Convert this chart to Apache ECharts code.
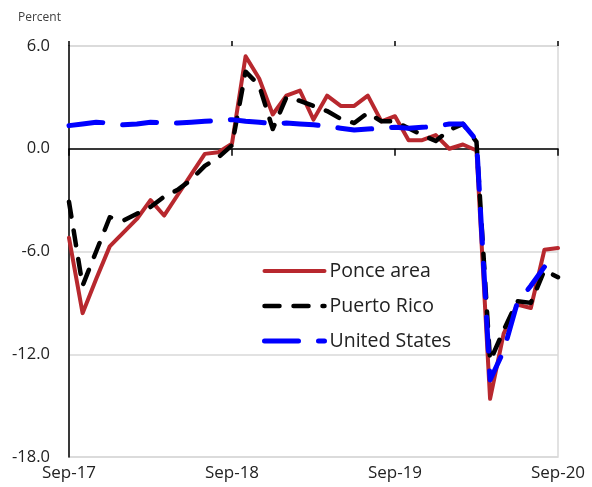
<!DOCTYPE html>
<html>
<head>
<meta charset="utf-8">
<script src="https://cdn.jsdelivr.net/npm/echarts@6/dist/echarts.min.js"></script>
<style>
  html, body { margin: 0; padding: 0; background: #fff; }
  #chart { width: 592px; height: 487px; }
</style>
</head>
<body>
<div id="chart"></div>
<script>
// Monthly periods, Sep 2017 through Sep 2020
const months = [
  'Sep-17','Oct-17','Nov-17','Dec-17','Jan-18','Feb-18','Mar-18','Apr-18','May-18','Jun-18','Jul-18','Aug-18',
  'Sep-18','Oct-18','Nov-18','Dec-18','Jan-19','Feb-19','Mar-19','Apr-19','May-19','Jun-19','Jul-19','Aug-19',
  'Sep-19','Oct-19','Nov-19','Dec-19','Jan-20','Feb-20','Mar-20','Apr-20','May-20','Jun-20','Jul-20','Aug-20',
  'Sep-20'
];

// Year-over-year change in payroll employment, percent
const ponceArea = [
  -5.2, -9.6, -7.6, -5.7, -4.9, -4.1, -3.0, -3.9, -2.7, -1.5, -0.3, -0.2,
   0.3,  5.4,  4.1,  2.0,  3.1,  3.4,  1.7,  3.1,  2.5,  2.5,  3.1,  1.6,
   1.9,  0.5,  0.5,  0.8,  0.0,  0.25, -0.1, -14.6, -10.8, -9.1, -9.3, -5.9,
  -5.8
];

const puertoRico = [
  -3.1, -8.0, -6.0, -4.0, -4.2, -3.8, -3.4, -2.8, -2.4, -1.8, -1.0, -0.5,
   0.2,  4.5,  3.7,  1.15, 3.0,  2.8,  2.5,  2.2,  1.75, 1.5,  2.1,  1.6,
   1.6,  1.2,  0.8,  0.45, 1.1,  1.45, 0.4, -12.4, -10.6, -8.9, -9.0, -7.1,
  -7.5
];

const unitedStates = [
   1.35, 1.45, 1.55, 1.5,  1.4,  1.45, 1.55, 1.5,  1.5,  1.55, 1.6,  1.65,
   1.7,  1.6,  1.55, 1.45, 1.5,  1.45, 1.4,  1.3,  1.2,  1.1,  1.15, 1.2,
   1.25, 1.2,  1.25, 1.3,  1.45, 1.45, 0.5, -13.5, -11.8, -9.0, -8.0, -6.9
];

const seriesNames = ['Ponce area', 'Puerto Rico', 'United States'];
const yTicks = { min: -18, max: 6, step: 6 };

const FONT = '"Open Sans", "Noto Sans", sans-serif';
const chart = echarts.init(document.getElementById('chart'), null, { renderer: 'canvas' });

chart.setOption({
  animation: false,
  backgroundColor: '#ffffff',
  title: {
    text: 'Percent',
    left: 13,
    top: 7,
    textStyle: { fontFamily: FONT, fontSize: 12, fontWeight: 'normal', color: '#404040' }
  },
  grid: {
    left: 69, right: 34, top: 46, bottom: 30,
    show: true, borderColor: '#d9d9d9', borderWidth: 1.5
  },
  legend: {
    orient: 'vertical',
    left: 257,
    top: 256,
    itemWidth: 60,
    itemHeight: 14,
    itemGap: 15,
    icon: 'inherit',
    lineStyle: { width: 'inherit' },
    itemStyle: { opacity: 0 },
    textStyle: { fontFamily: FONT, fontSize: 19.5, color: '#222', lineHeight: 19 },
    data: seriesNames
  },
  xAxis: [
    {
      // month labels along the bottom edge
      type: 'category',
      data: months,
      boundaryGap: false,
      position: 'bottom',
      axisLine: { show: false, onZero: false },
      axisTick: { show: false },
      splitLine: { show: false },
      axisLabel: {
        interval: 11,
        margin: 8,
        fontFamily: FONT, fontSize: 17, color: '#222',
        showMinLabel: true, showMaxLabel: true
      }
    },
    {
      // zero line with downward ticks
      type: 'category',
      data: months,
      boundaryGap: false,
      position: 'bottom',
      axisLine: { show: true, onZero: true, lineStyle: { color: '#000', width: 1.5 } },
      axisTick: { show: true, interval: 11, length: 7, lineStyle: { color: '#000', width: 1.5 } },
      axisLabel: { show: false },
      splitLine: { show: false }
    },
    {
      // upward half of the crossing ticks on the zero line
      type: 'category',
      data: months,
      boundaryGap: false,
      position: 'top',
      axisLine: { show: false, onZero: true },
      axisTick: { show: true, interval: 11, length: 5, lineStyle: { color: '#000', width: 1.5 } },
      axisLabel: { show: false },
      splitLine: { show: false }
    }
  ],
  yAxis: {
    type: 'value',
    min: yTicks.min,
    max: yTicks.max,
    interval: yTicks.step,
    axisLine: { show: true, onZero: false, lineStyle: { color: '#000', width: 1.5 } },
    axisTick: { show: false },
    splitLine: { show: true, lineStyle: { color: '#d9d9d9', width: 1.5 } },
    axisLabel: {
      margin: 19,
      fontFamily: FONT, fontSize: 16.5, color: '#222',
      formatter: v => v.toFixed(1)
    }
  },
  series: [
    {
      name: seriesNames[0],
      type: 'line',
      data: ponceArea,
      symbol: 'none',
      z: 2,
      lineStyle: { color: '#b8282e', width: 4, join: 'round', cap: 'round' },
      itemStyle: { color: '#b8282e' }
    },
    {
      name: seriesNames[1],
      type: 'line',
      data: puertoRico,
      symbol: 'none',
      z: 3,
      lineStyle: { color: '#000000', width: 4.5, type: [15, 14], join: 'round', cap: 'round' },
      itemStyle: { color: '#000000' }
    },
    {
      name: seriesNames[2],
      type: 'line',
      data: unitedStates,
      symbol: 'none',
      z: 4,
      lineStyle: { color: '#0000ff', width: 5, type: [34, 20], join: 'round', cap: 'round' },
      itemStyle: { color: '#0000ff' }
    }
  ]
});
</script>
</body>
</html>
